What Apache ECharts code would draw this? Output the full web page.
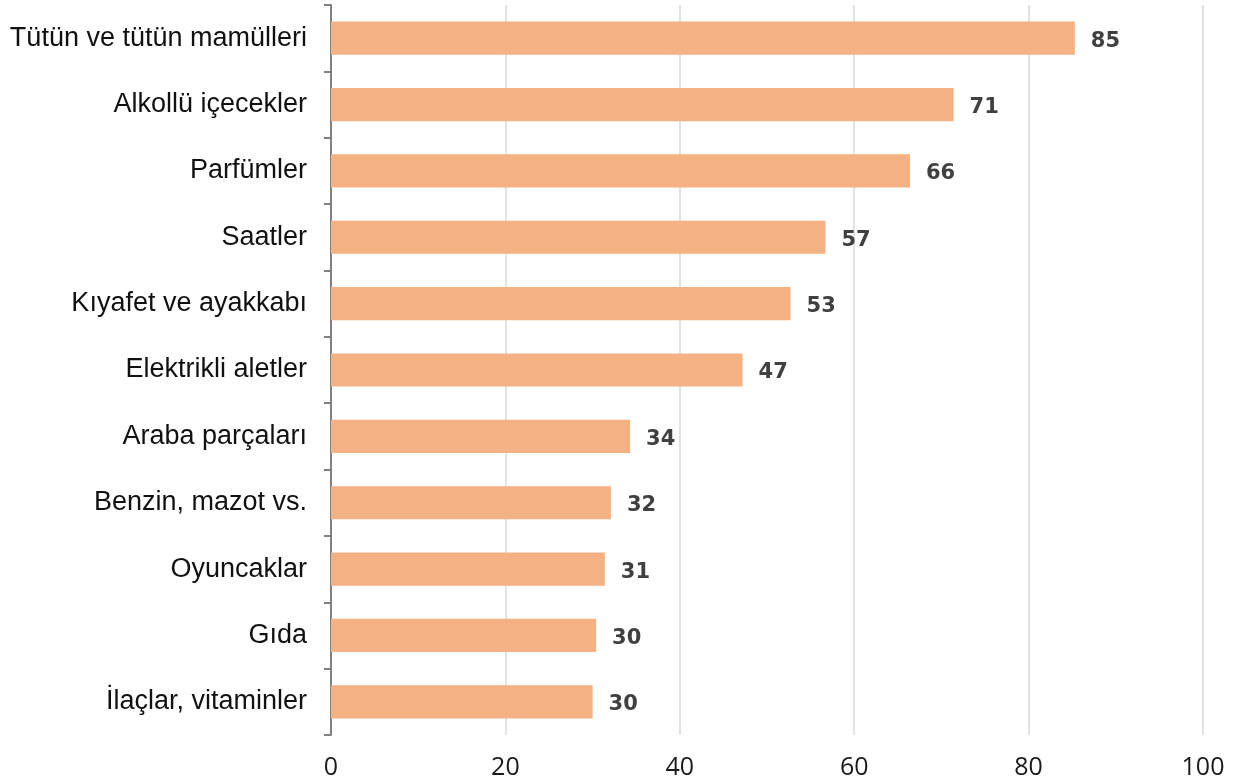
<!DOCTYPE html>
<html><head><meta charset="utf-8">
<script src="https://cdn.jsdelivr.net/npm/echarts@6/dist/echarts.min.js"></script>
<style>html,body{margin:0;padding:0;background:#fff}#c{width:1239px;height:782px}</style>
</head><body><div id="c"></div>
<script>
const categories = ["Tütün ve tütün mamülleri","Alkollü içecekler","Parfümler","Saatler","Kıyafet ve ayakkabı","Elektrikli aletler","Araba parçaları","Benzin, mazot vs.","Oyuncaklar","Gıda","İlaçlar, vitaminler"];
const values = [85.3, 71.4, 66.4, 56.7, 52.7, 47.2, 34.3, 32.1, 31.4, 30.4, 30.0];
const xTicks = [0, 20, 40, 60, 80, 100];

const chart = echarts.init(document.getElementById('c'), null, {renderer:'canvas'});
chart.setOption({
  animation:false,
  grid:{left:331, right:36, top:5, bottom:47, containLabel:false},
  xAxis:{type:'value', min:xTicks[0], max:xTicks[xTicks.length-1], interval:20,
    axisLine:{show:false}, axisTick:{show:false},
    splitLine:{show:true, lineStyle:{color:'#d9d9d9', width:1.5}},
    axisLabel:{margin:20, fontSize:25, color:'#1a1a1a', fontFamily:'Open Sans'}},
  yAxis:{type:'category', data:categories, inverse:true,
    axisLine:{show:true, lineStyle:{color:'#808080', width:2}},
    axisTick:{show:true, length:7, lineStyle:{color:'#808080', width:2}},
    axisLabel:{margin:24, fontSize:27, color:'#111', fontFamily:'Liberation Sans', padding:[4,0,0,0]}},
  series:[{type:'bar', data:values, barWidth:'50%',
    itemStyle:{color:'#f4b183'},
    label:{show:true, position:'right', distance:16, offset:[0,3], fontSize:21, fontWeight:'bold',
      color:'#404040', fontFamily:'DejaVu Sans', formatter:p=>Math.round(p.value)}}]
});
</script></body></html>
